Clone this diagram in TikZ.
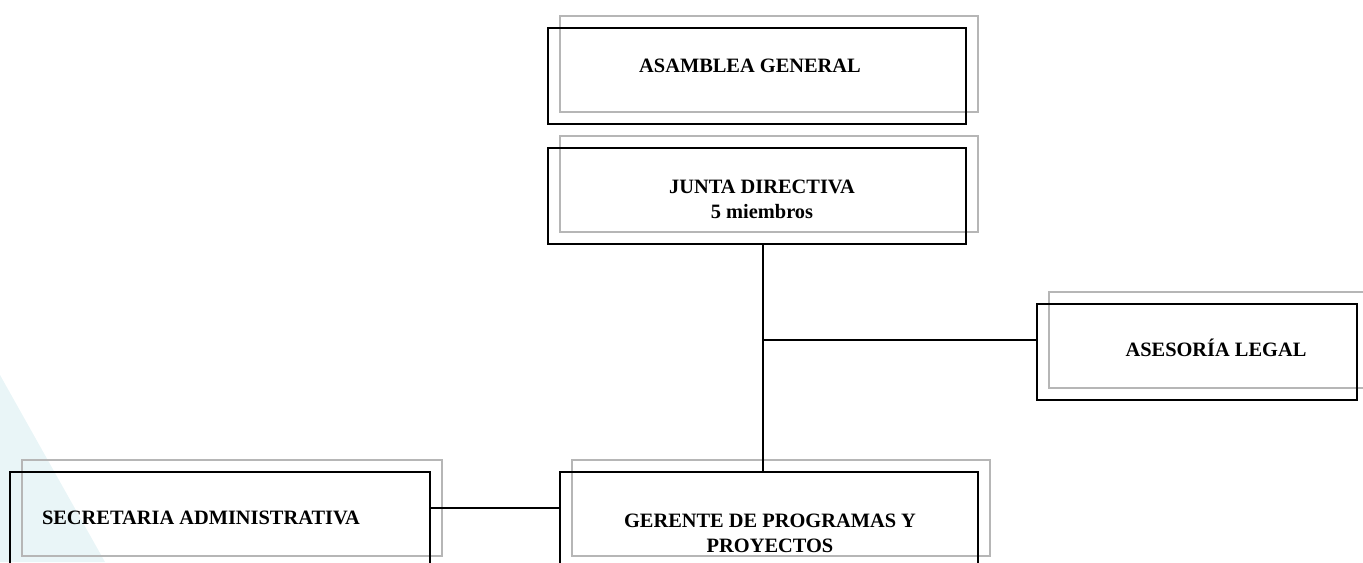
\documentclass[tikz,border=0pt]{standalone}
\usepackage{fontspec}
\setmainfont{Liberation Serif}
\usepackage{tikz}
\usetikzlibrary{positioning}
\definecolor{fondo}{HTML}{E9F5F7}
\definecolor{sombra}{HTML}{B6B6B6}
\tikzset{
	caja/.style={draw, line width=1.4pt, minimum width=#1*0.75pt, minimum height=72pt, inner sep=0pt,
		preaction={draw=sombra, line width=2pt, transform canvas={shift={(9pt,9pt)}}}},
	caja/.default=418,
	texto/.style={font=\bfseries\fontsize{15.3}{18.75}\selectfont, align=center, inner sep=0pt}
}

\begin{document}
\begin{tikzpicture}[x=0.75pt, y=-0.75pt, line width=1.4pt]
	\useasboundingbox (0,0) rectangle (1363,562);
	%fondo
	\fill [fondo] (0,375) -- (105,562) -- (0,562) -- cycle;
	%cajas
	\node [caja] (asamblea) at (757,76) {};
	\node [texto] (asambleaT) at (750,66) {ASAMBLEA GENERAL};
	\node [caja] (junta) at (757,196) {};
	\node [texto] (juntaT) at (762,199) {JUNTA DIRECTIVA\\5 miembros};
	\node [caja=320] (asesoria) at (1197,352) {};
	\node [texto] (asesoriaT) at (1216,348) {ASESORÍA LEGAL};
	\node [caja=420] (secretaria) at (220,520) {};
	\node [texto] (secretariaT) at (201,518) {SECRETARIA ADMINISTRATIVA};
	\node [caja] (gerente) at (769,520) {};
	\node [texto] (gerenteT) at (770,533) {GERENTE DE PROGRAMAS Y\\PROYECTOS};
	%lineas
	\coordinate (eje) at (763,340);
	\coordinate (enlace) at (0,508);
	\draw (eje |- junta.south) -- (eje |- gerente.north);
	\draw (eje) -- (eje -| asesoria.west);
	\draw (secretaria.east |- enlace) -- (gerente.west |- enlace);
\end{tikzpicture}
\end{document}
